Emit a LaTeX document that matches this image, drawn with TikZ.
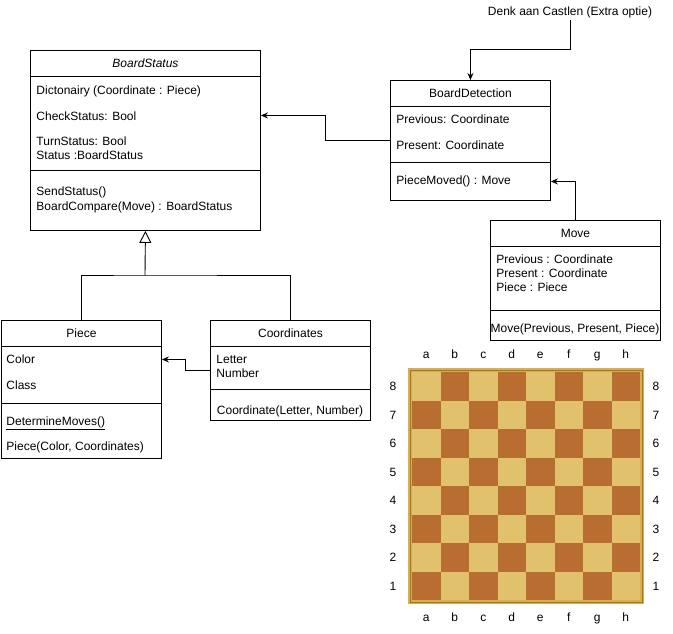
\documentclass[tikz,border=0pt]{standalone}
\usepackage{fontspec}
\setmainfont{Liberation Sans}
\usetikzlibrary{arrows.meta,positioning}

\definecolor{lightsq}{RGB}{226,193,108}
\definecolor{darksq}{RGB}{184,109,49}
\definecolor{boardrim}{RGB}{216,174,80}
\definecolor{boardline}{RGB}{160,118,42}

\tikzset{
  umlhead/.style={draw, anchor=north west, minimum height=26pt, inner sep=0pt},
  umlpart/.style={draw, anchor=north west, inner sep=0pt},
  attr/.style={anchor=base west, inner sep=0pt},
  assoc/.style={-{Stealth[length=7pt,width=6pt]}},
  inherit/.style={-{Triangle[open,length=12pt,width=12pt]}},
  lbl/.style={anchor=base, inner sep=0pt}
}

\begin{document}
\begin{tikzpicture}[x=1pt, y=-1pt, line width=0.9pt, font=\fontsize{12}{14}\selectfont]
	\useasboundingbox (0,0) rectangle (673,633);

	\path (30, 50)   node[umlhead, minimum width=230pt] (bshead) {\textit{BoardStatus}}
	      (30, 76)   node[umlpart, minimum width=230pt, minimum height=94pt] (bsattr) {}
	      (30, 170)  node[umlpart, minimum width=230pt, minimum height=60pt] (bsmeth) {};
	\path (36, 94)   node[attr] (bsdict)  {Dictonairy (Coordinate : Piece)}
	      (36, 120)  node[attr] (bscheck) {CheckStatus: Bool}
	      (36, 145)  node[attr] (bsturn)  {TurnStatus: Bool}
	      (36, 159)  node[attr] (bsstat)  {Status :BoardStatus}
	      (36, 195)  node[attr] (bssend)  {SendStatus()}
	      (36, 210)  node[attr] (bscomp)  {BoardCompare(Move) : BoardStatus};

	\path (390, 80)  node[umlhead, minimum width=160pt] (bdhead) {BoardDetection}
	      (390, 106) node[umlpart, minimum width=160pt, minimum height=56pt] (bdattr) {}
	      (390, 162) node[umlpart, minimum width=160pt, minimum height=38pt] (bdmeth) {};
	\path (396, 123) node[attr] (bdprev)  {Previous: Coordinate}
	      (396, 149) node[attr] (bdpres)  {Present: Coordinate}
	      (396, 184) node[attr] (bdmoved) {PieceMoved() : Move};

	\path (570, 15)  node[lbl, inner sep=2pt] (note) {Denk aan Castlen (Extra optie)};

	\path (490, 220) node[umlhead, minimum width=170pt] (mvhead) {Move}
	      (490, 246) node[umlpart, minimum width=170pt, minimum height=64pt] (mvattr) {}
	      (490, 310) node[umlpart, minimum width=170pt, minimum height=30pt] (mvmeth) {};
	\path (496, 263) node[attr] (mvprev)  {Previous : Coordinate}
	      (496, 277) node[attr] (mvpres)  {Present : Coordinate}
	      (496, 291) node[attr] (mvpiece) {Piece : Piece}
	      (575, 332) node[lbl]  (mvnew)   {Move(Previous, Present, Piece)};

	\path (1, 320)   node[umlhead, minimum width=160pt] (pihead) {Piece}
	      (1, 346)   node[umlpart, minimum width=160pt, minimum height=57pt] (piattr) {}
	      (1, 403)   node[umlpart, minimum width=160pt, minimum height=55pt] (pimeth) {};
	\path (6, 363)   node[attr] (picolor) {Color}
	      (6, 389)   node[attr] (piclass) {Class}
	      (6, 425)   node[attr] (pidet)   {\underline{DetermineMoves()}}
	      (6, 450)   node[attr] (pinew)   {Piece(Color, Coordinates)};

	\path (210, 320) node[umlhead, minimum width=160pt] (cohead) {Coordinates}
	      (210, 346) node[umlpart, minimum width=160pt, minimum height=43pt] (coattr) {}
	      (210, 389) node[umlpart, minimum width=160pt, minimum height=31pt] (cometh) {};
	\path (216, 363) node[attr] (coletter) {Letter}
	      (216, 377) node[attr] (conumber) {Number}
	      (290, 414) node[lbl]  (conew)    {Coordinate(Letter, Number)};

	\coordinate (join) at (145, 275);

	\draw[assoc] (note.south) -- ++(0, 30) -| (bdhead.north);
	\draw[assoc] ([yshift=-6pt]bdattr.west) -- ++(-65, 0) |- ([yshift=8pt]bsattr.east);
	\draw[assoc] (mvhead.north) |- (bdmeth.east);
	\draw[assoc] ([yshift=-2.5pt]coattr.west) -- ++(-25, 0) |- ([yshift=15.5pt]piattr.east);
	\draw (pihead.north) |- (join) -| (cohead.north);
	\draw[inherit] (join) -- (bsmeth.south);

	\fill[boardrim] (408, 368) rectangle (644, 604);
	\draw[boardline, line width=1pt] (410, 370) rectangle (642, 602);
	\foreach \f in {0,...,7}
		\foreach \r in {0,...,7} {
			\pgfmathtruncatemacro\sqsum{\f+\r}
			\ifodd\sqsum \def\sqcol{lightsq}\else\def\sqcol{darksq}\fi
			\fill[\sqcol] (412+28.5*\f, 600-28.5*\r) rectangle ++(28.5, -28.5);
		}
	\foreach \file [count=\i from 0] in {a,...,h} {
		\node[lbl] (top\file) at (426.25+28.5*\i, 358) {\file};
		\node[lbl] (bot\file) at (426.25+28.5*\i, 621) {\file};
	}
	\foreach \rank in {1,...,8} {
		\node[lbl] (left\rank)  at (393, 618.5-28.5*\rank) {\rank};
		\node[lbl] (right\rank) at (656, 618.5-28.5*\rank) {\rank};
	}
\end{tikzpicture}
\end{document}
